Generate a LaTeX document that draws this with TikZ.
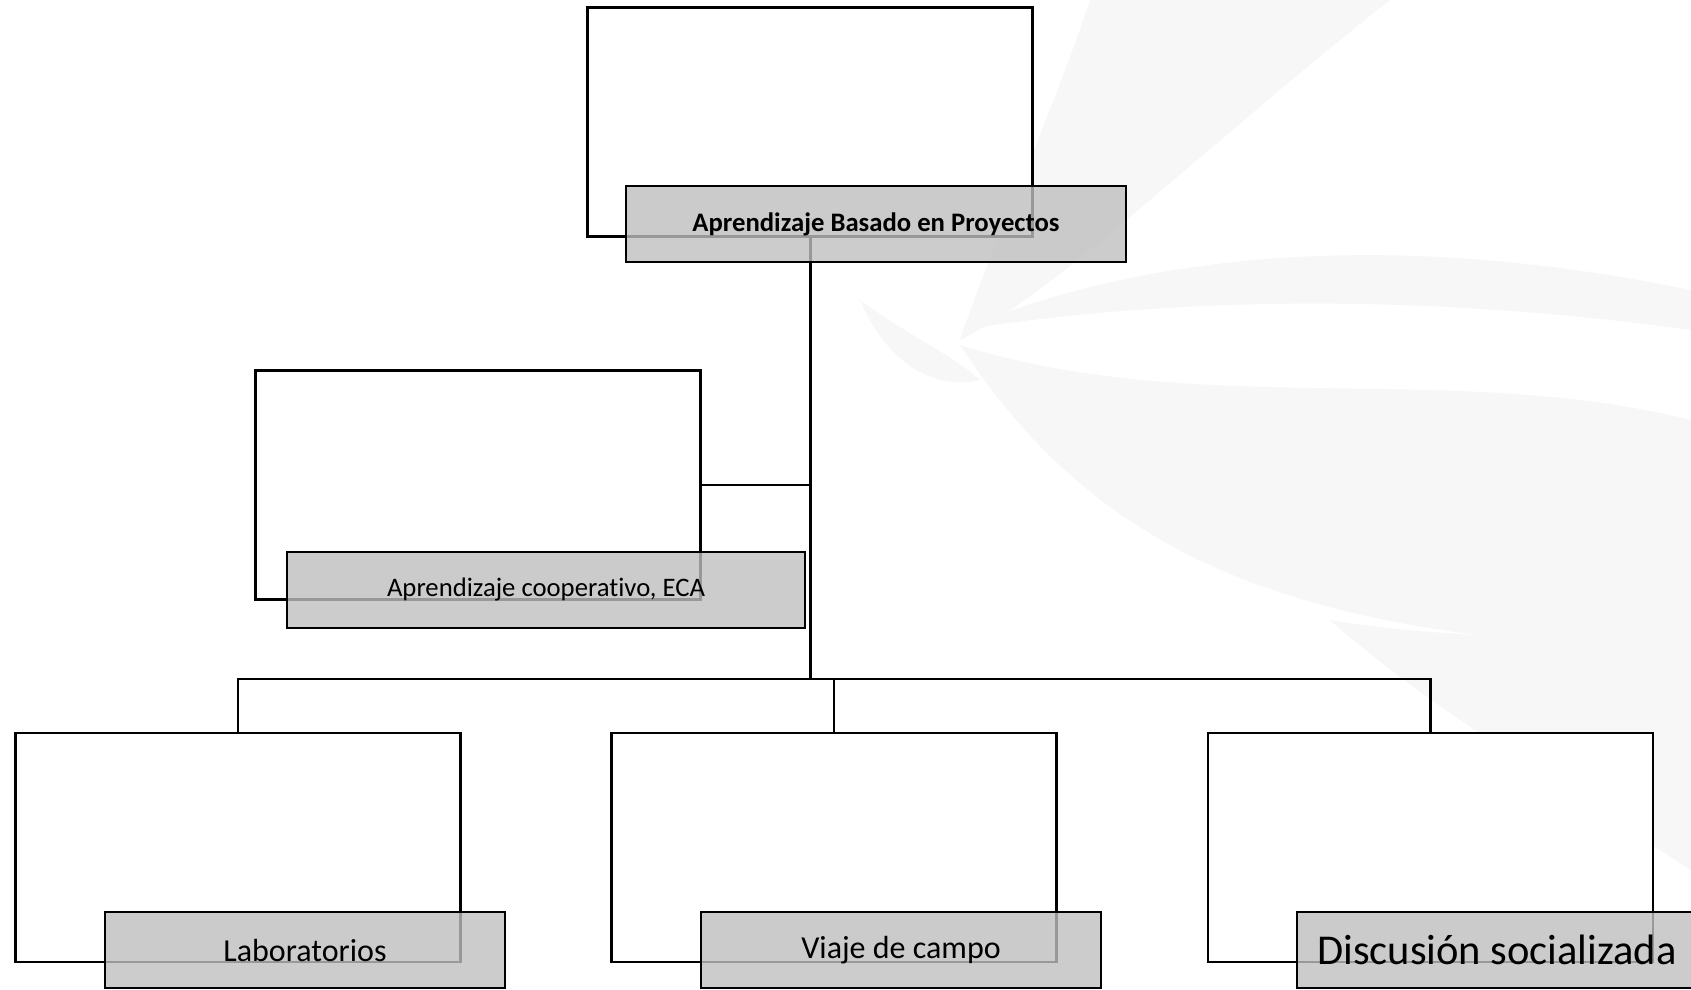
\documentclass[tikz,border=0pt]{standalone}
\usepackage{fontspec}
\setmainfont[Ligatures=NoCommon]{Carlito}
\definecolor{boxgrey}{RGB}{191,191,191}
\definecolor{wm}{RGB}{247,247,247}
\begin{document}
\begin{tikzpicture}[x=1pt,y=-1pt,
  wbox/.style={draw=black, line width=2.2pt, fill=white, inner sep=0pt,
    minimum width=445pt, minimum height=229pt},
  gbox/.style={draw=black, line width=2.4pt, fill=boxgrey, fill opacity=0.8,
    text opacity=1, inner sep=0pt, minimum height=76pt, font=\fontsize{26.7}{31}\selectfont},
  link/.style={line width=2.2pt, draw=black},
  trunk/.style={line width=3pt, draw=black}]
\useasboundingbox (0,0) rectangle (1691,989);
\clip (0,0) rectangle (1691,989);
% faint watermark
\fill[wm] (1090,0) .. controls (1050,120) and (990,250) .. (960,340)
  .. controls (1060,290) and (1200,150) .. (1390,0) -- cycle;
\fill[wm] (960,330) .. controls (1150,250) and (1400,230) .. (1691,290)
  -- (1691,330) .. controls (1400,290) and (1150,300) .. cycle;
\fill[wm] (960,345) .. controls (1100,560) and (1300,640) .. (1691,650)
  -- (1691,420) .. controls (1450,360) and (1200,420) .. cycle;
\fill[wm] (1330,620) .. controls (1450,640) and (1600,640) .. (1691,630)
  -- (1691,870) .. controls (1550,780) and (1420,700) .. cycle;
\fill[wm] (860,300) .. controls (900,330) and (960,360) .. (980,380)
  .. controls (940,390) and (890,370) .. cycle;
% white boxes
\node[wbox] (wA) at (810,122) {};
\node[wbox] (wB) at (478,485) {};
\node[wbox] (wL) at (238,847.5) {};
\node[wbox] (wV) at (834,847.5) {};
\node[wbox] (wD) at (1430.5,847.5) {};
% connectors
\coordinate (j) at (wA.south |- 0,679);
\draw[trunk] (wA.south) -- (j);
\draw[link] (wB.east) -- (wB.east -| wA.south);
\draw[link] (wL.north) |- (j) -| (wD.north);
\draw[link] (j) -| (wV.north);
% grey label boxes
\node[gbox, minimum width=500pt, font=\fontsize{26.7}{31}\selectfont\bfseries] (gA) at (876,224) {Aprendizaje Basado en Proyectos};
\node[gbox, minimum width=518pt] (gB) at (546,590) {Aprendizaje cooperativo, ECA};
\node[gbox, minimum width=400pt, font=\fontsize{32}{38}\selectfont] (gL) at (305,950) {Laboratorios};
\node[gbox, minimum width=400pt, font=\fontsize{32}{38}\selectfont] (gV) at (901,950) {Viaje de campo};
\node[gbox, minimum width=400pt, font=\fontsize{42.5}{50}\selectfont] (gD) at (1497,950) {Discusión socializada};
\end{tikzpicture}
\end{document}
